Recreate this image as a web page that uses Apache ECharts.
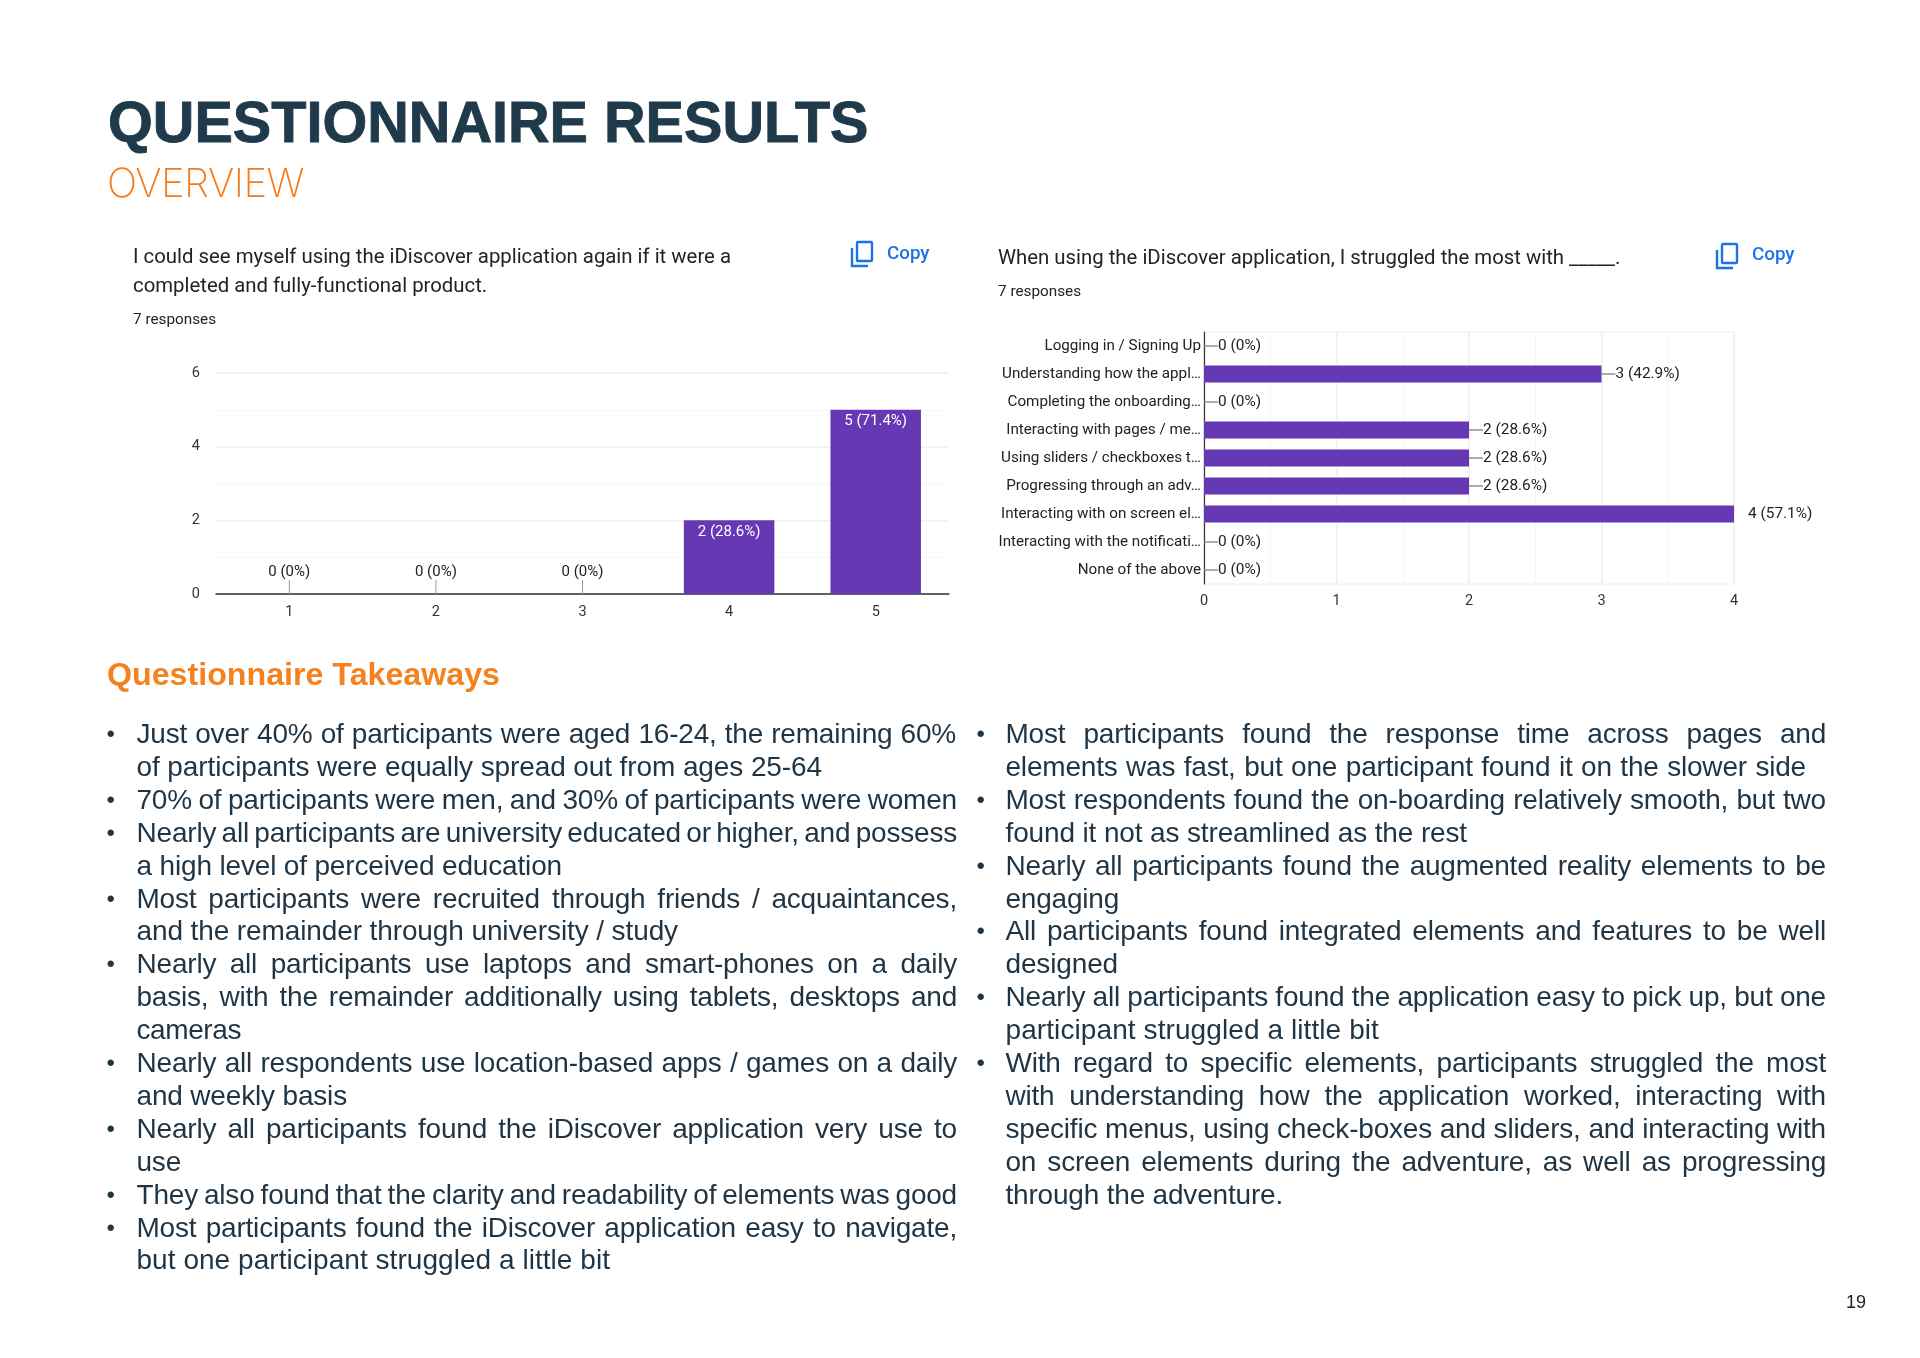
<!DOCTYPE html>
<html><head><meta charset="utf-8">
<script src="https://cdn.jsdelivr.net/npm/echarts@6/dist/echarts.min.js"></script>
<style>
html,body{margin:0;padding:0;background:#fff;width:1920px;height:1358px;overflow:hidden}
#c{position:absolute;left:0;top:0;width:1920px;height:1358px}
.t{position:absolute;white-space:pre;font-family:"Liberation Sans",sans-serif;color:#1f3444;line-height:33px}
</style></head><body>
<div id="c"></div>
<div id="txt"></div>
<script>
// ---- chart data ----
const q1Categories = ['1','2','3','4','5'];
const q1Values = [0,0,0,2,5];
const q1Labels = ['0 (0%)','0 (0%)','0 (0%)','2 (28.6%)','5 (71.4%)'];
const q2Categories = ['Logging in / Signing Up','Understanding how the appl…','Completing the onboarding…','Interacting with pages / me…','Using sliders / checkboxes t…','Progressing through an adv…','Interacting with on screen el…','Interacting with the notificati…','None of the above'];
const q2Values = [0,3,0,2,2,2,4,0,0];
const q2Labels = ['0 (0%)','3 (42.9%)','0 (0%)','2 (28.6%)','2 (28.6%)','2 (28.6%)','4 (57.1%)','0 (0%)','0 (0%)'];
// ---- slide copy: [text, right edge] ----
const leftLines = [
['Just over 40% of participants were aged 16-24, the remaining 60%',956,1],
['of participants were equally spread out from ages 25-64',822,0],
['70% of participants were men, and 30% of participants were women',957,1],
['Nearly all participants are university educated or higher, and possess',957,1],
['a high level of perceived education',562,0],
['Most participants were recruited through friends / acquaintances,',957,1],
['and the remainder through university / study',678,0],
['Nearly all participants use laptops and smart-phones on a daily',957,1],
['basis, with the remainder additionally using tablets, desktops and',957,1],
['cameras',241,0],
['Nearly all respondents use location-based apps / games on a daily',957,1],
['and weekly basis',347,0],
['Nearly all participants found the iDiscover application very use to',957,1],
['use',181,0],
['They also found that the clarity and readability of elements was good',957,1],
['Most participants found the iDiscover application easy to navigate,',957,1],
['but one participant struggled a little bit',610,0]];
const rightLines = [
['Most participants found the response time across pages and',1826,1],
['elements was fast, but one participant found it on the slower side',1806,1],
['Most respondents found the on-boarding relatively smooth, but two',1826,1],
['found it not as streamlined as the rest',1467,0],
['Nearly all participants found the augmented reality elements to be',1826,1],
['engaging',1119,0],
['All participants found integrated elements and features to be well',1826,1],
['designed',1118,0],
['Nearly all participants found the application easy to pick up, but one',1826,1],
['participant struggled a little bit',1379,0],
['With regard to specific elements, participants struggled the most',1826,1],
['with understanding how the application worked, interacting with',1826,1],
['specific menus, using check-boxes and sliders, and interacting with',1826,1],
['on screen elements during the adventure, as well as progressing',1826,1],
['through the adventure.',1283,0]];
const leftBullets = [0,2,3,5,7,10,12,14,15];
const rightBullets = [0,2,4,6,8,10];

const box = document.getElementById('txt');
function put(text,x,cy,st){const d=document.createElement('div');d.className='t';d.textContent=text;d.style.left=x+'px';d.style.top=(cy-16.5)+'px';Object.assign(d.style,st||{});box.appendChild(d);return d;}
function col(lines,bullets,x0,bx){
  lines.forEach((l,i)=>{
    const cy=733.5+i*32.9;
    const d=put(l[0],x0,cy,{fontSize:'28px',letterSpacing:'-0.2px'});
    const w=d.getBoundingClientRect().width, tgt=l[1]-x0, sp=(l[0].match(/ /g)||[]).length;
    if(l[2]&&sp) d.style.wordSpacing=((tgt-w)/sp)+'px';
    else d.style.letterSpacing=(-0.2+(tgt-w)/l[0].length)+'px';
    if(bullets.includes(i)) put('•',bx,cy,{fontSize:'24px'});
  });
}
col(leftLines,leftBullets,136.5,106.5);
col(rightLines,rightBullets,1005.5,976.5);
put('QUESTIONNAIRE RESULTS',108,122,{fontSize:'57.6px',fontWeight:'700',color:'#1f3a4a',lineHeight:'60px',top:'92px',WebkitTextStroke:'0.9px #1f3a4a'});
put('OVERVIEW',107,182,{fontFamily:'Inter',fontWeight:'200',fontSize:'40px',color:'#f47b1c',lineHeight:'50px',top:'157.5px',letterSpacing:'-0.5px'});
put('Questionnaire Takeaways',107,674,{fontSize:'32.2px',fontWeight:'700',color:'#f5821f'});
put('19',1846,1302,{fontSize:'18px',color:'#222'});

const F='Roboto';
const TC='#222';
const grid='#eeeeee', minor='#f6f6f6', purple='#6738b3';
function text(x,y,t,size,color,weight){return {type:'text',x,y,style:{text:t,fontFamily:F,fontSize:size,fill:color||TC,fontWeight:weight||400,textVerticalAlign:'middle'}};}
function copyIcon(x,y,c){return [
 {type:'rect',shape:{x:x+6,y:y,width:15,height:19,r:1},style:{fill:'none',stroke:c,lineWidth:2.4}},
 {type:'polyline',shape:{points:[[x+1,y+6],[x+1,y+24],[x+17,y+24]]},style:{fill:'none',stroke:c,lineWidth:2.4}}];}

const chart=echarts.init(document.getElementById('c'),null,{renderer:'canvas'});
chart.setOption({
 animation:false,backgroundColor:'#fff',
 grid:[{left:216,top:373,width:733,height:221},{left:1204,top:332,width:530,height:252,show:true,borderColor:grid,borderWidth:1}],
 xAxis:[
  {gridIndex:0,type:'category',data:q1Categories,axisTick:{show:false},axisLine:{lineStyle:{color:'#333',width:1.5}},
   axisLabel:{fontFamily:F,fontSize:14.5,color:'#333',margin:11}},
  {gridIndex:1,type:'value',min:0,max:4,interval:1,axisLine:{show:false},axisTick:{show:false},
   splitLine:{lineStyle:{color:grid,width:1.5}},minorTick:{show:false,splitNumber:2},minorSplitLine:{show:true,lineStyle:{color:minor,width:1}},
   axisLabel:{fontFamily:F,fontSize:14.5,color:'#333',margin:10}}],
 yAxis:[
  {gridIndex:0,type:'value',min:0,max:6,interval:2,axisLine:{show:false},axisTick:{show:false},
   splitLine:{lineStyle:{color:grid,width:1.5}},minorTick:{show:false,splitNumber:2},minorSplitLine:{show:true,lineStyle:{color:minor,width:1}},
   axisLabel:{fontFamily:F,fontSize:14.5,color:'#333',margin:16}},
  {gridIndex:1,type:'category',inverse:true,data:q2Categories,axisTick:{show:false},axisLine:{lineStyle:{color:'#333',width:1.2}},
   axisLabel:{fontFamily:F,fontSize:15.2,color:TC,margin:3,padding:[2,0,0,0]}}],
 series:[
  {type:'bar',xAxisIndex:0,yAxisIndex:0,barWidth:90.5,itemStyle:{color:purple},
   data:q1Values.map((v,i)=>({value:v,
     label:v>0?{show:true,position:'insideTop',distance:4,color:'#fff',fontFamily:F,fontSize:15,formatter:()=>q1Labels[i]}
              :{show:true,position:'top',distance:0,color:TC,fontFamily:F,fontSize:15,formatter:()=>q1Labels[i]},
     labelLine:{show:v===0,lineStyle:{color:'#999',width:1}}})),
   labelLayout:(p)=>p.rect.height===0?{dy:-14}:{},labelLine:{show:true}},
  {type:'bar',xAxisIndex:1,yAxisIndex:1,barWidth:17,itemStyle:{color:purple},
   data:q2Values.map((v,i)=>({value:v,
     label:{show:true,position:'right',distance:0,color:TC,fontFamily:F,fontSize:15.4,padding:[2,0,0,0],formatter:()=>q2Labels[i]},
     labelLine:{show:v!==4,lineStyle:{color:'#888',width:1.4}}})),
   labelLayout:{dx:14},labelLine:{show:true}}],
 graphic:{elements:[
  text(133,258,'I could see myself using the iDiscover application again if it were a',20.35),
  text(133,287,'completed and fully-functional product.',20.35),
  text(133,320.5,'7 responses',15.3),
  text(887,254.5,'Copy',18.8,'#1a73e8',500),
  ...copyIcon(851,242,'#1a73e8'),
  text(998,259,'When using the iDiscover application, I struggled the most with _____.',20.35),
  text(998,292.5,'7 responses',15.3),
  text(1752,255.5,'Copy',18.8,'#1a73e8',500),
  ...copyIcon(1716,244,'#1a73e8')
 ]}
});
</script>
</body></html>
